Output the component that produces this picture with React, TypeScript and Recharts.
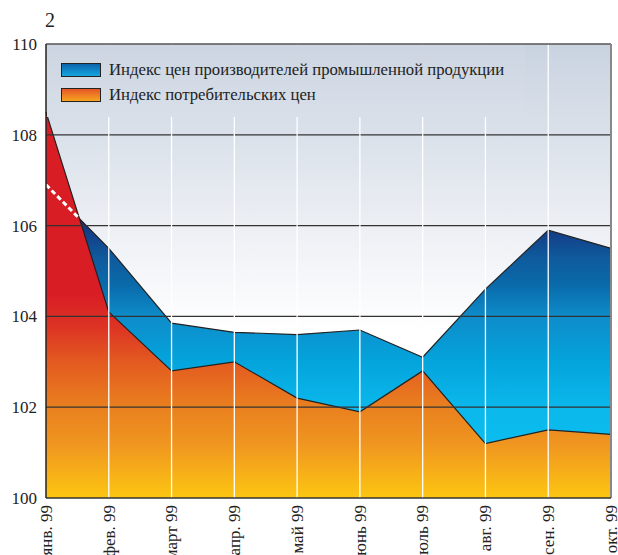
import {
  ComposedChart,
  Area,
  Line,
  XAxis,
  YAxis,
  CartesianGrid,
  ReferenceLine,
} from "recharts";

// Месяцы 1999 г.
const months = [
  "янв. 99",
  "фев. 99",
  "март 99",
  "апр. 99",
  "май 99",
  "июнь 99",
  "июль 99",
  "авг. 99",
  "сен. 99",
  "окт. 99",
];

// Индекс цен производителей промышленной продукции
const producer = [106.9, 105.5, 103.85, 103.65, 103.6, 103.7, 103.1, 104.6, 105.9, 105.5];
// Индекс потребительских цен
const consumer = [108.5, 104.1, 102.8, 103.0, 102.2, 101.9, 102.8, 101.2, 101.5, 101.4];

const yTicks = [100, 102, 104, 106, 108, 110];
const gridValues = [102, 104, 106, 108];

const SERIF = '"Liberation Serif", "DejaVu Serif", serif';

const data = months.map((label, i) => ({
  i,
  label,
  producer: producer[i],
  consumer: consumer[i],
}));

// producer line is hidden under the consumer area until the two cross;
// that stretch is shown as a white dashed line
function hiddenProducerSegment() {
  const d0 = consumer[0] - producer[0];
  const d1 = consumer[1] - producer[1];
  const t = d0 / (d0 - d1);
  return [
    { i: 0, v: producer[0] },
    { i: t, v: producer[0] + t * (producer[1] - producer[0]) },
  ];
}

function MonthTick(props: any) {
  const { x, y, payload } = props;
  return (
    <g transform={`translate(${x},${y + 5}) rotate(-90)`}>
      <text
        x={0}
        y={0}
        dy="0.34em"
        textAnchor="end"
        fill="#222"
        fontSize={17}
        fontFamily={SERIF}
      >
        {months[payload.value]}
      </text>
    </g>
  );
}

function Swatch({ kind }: { kind: "blue" | "orange" }) {
  const bg =
    kind === "blue"
      ? "linear-gradient(#0b63aa, #15a6e2)"
      : "linear-gradient(#e65528, #f6a51e)";
  return (
    <div
      style={{
        width: 38,
        height: 12,
        border: "1px solid #222",
        background: bg,
        marginRight: 8,
      }}
    />
  );
}

export default function App() {
  return (
    <div
      style={{
        position: "absolute",
        left: 0,
        top: 0,
        width: 618,
        height: 555,
        overflow: "hidden",
        fontFamily: SERIF,
      }}
    >
      <ComposedChart
        width={618}
        height={555}
        data={data}
        margin={{ top: 44, right: 7, bottom: 0, left: 0 }}
        style={{ fontFamily: SERIF }}
      >
        <defs>
          <linearGradient id="bgFill" x1="0" y1="0" x2="0" y2="1">
            <stop offset="0%" stopColor="#c9d3e0" />
            <stop offset="40%" stopColor="#eceff4" />
            <stop offset="63%" stopColor="#ffffff" />
            <stop offset="100%" stopColor="#ffffff" />
          </linearGradient>
          <linearGradient id="blueFill" gradientUnits="userSpaceOnUse" x1="0" y1="44" x2="0" y2="498">
            <stop offset="0.38" stopColor="#172c7a" />
            <stop offset="0.47" stopColor="#0f5a9c" />
            <stop offset="0.53" stopColor="#0a6aaa" />
            <stop offset="0.6" stopColor="#0e8cca" />
            <stop offset="0.7" stopColor="#04a4dc" />
            <stop offset="0.8" stopColor="#0ab8ec" />
            <stop offset="1" stopColor="#12c4f4" />
          </linearGradient>
          <linearGradient id="orangeFill" gradientUnits="userSpaceOnUse" x1="0" y1="44" x2="0" y2="498">
            <stop offset="0.55" stopColor="#d91d25" />
            <stop offset="0.62" stopColor="#dc3224" />
            <stop offset="0.7" stopColor="#e35a20" />
            <stop offset="0.8" stopColor="#e9801f" />
            <stop offset="0.88" stopColor="#ef9520" />
            <stop offset="1" stopColor="#fdc612" />
          </linearGradient>
        </defs>
        <CartesianGrid fill="url(#bgFill)" horizontal={false} vertical={false} />
        <XAxis
          type="number"
          dataKey="i"
          domain={[0, 9]}
          ticks={months.map((_, i) => i)}
          height={57}
          tickLine={false}
          tickSize={0}
          axisLine={{ stroke: "#333", strokeWidth: 1.5 }}
          tick={<MonthTick />}
          interval={0}
        />
        <YAxis
          type="number"
          domain={[100, 110]}
          ticks={yTicks}
          width={46}
          tickLine={false}
          tickSize={0}
          tickMargin={9}
          axisLine={{ stroke: "#222", strokeWidth: 1.5 }}
          tick={{ fill: "#222", fontSize: 17, fontFamily: SERIF }}
          interval={0}
        />
        <Area
          type="linear"
          dataKey="producer"
          stroke="#222"
          strokeWidth={1.2}
          fill="url(#blueFill)"
          fillOpacity={1}
          isAnimationActive={false}
          dot={false}
          activeDot={false}
        />
        <Area
          type="linear"
          dataKey="consumer"
          stroke="#222"
          strokeWidth={1.2}
          fill="url(#orangeFill)"
          fillOpacity={1}
          isAnimationActive={false}
          dot={false}
          activeDot={false}
        />
        {gridValues.map((v) => (
          <ReferenceLine key={`h${v}`} y={v} stroke="#333" strokeWidth={1.3} zIndex={450} />
        ))}
        {months.slice(1, -1).map((_, k) => (
          <ReferenceLine key={`v${k}`} x={k + 1} stroke="#ffffff" strokeWidth={1.3} zIndex={450} />
        ))}
        <ReferenceLine y={110} stroke="#555" strokeWidth={1.5} zIndex={450} />
        <ReferenceLine x={9} stroke="#888" strokeWidth={2} zIndex={450} />
        <Line
          data={hiddenProducerSegment()}
          dataKey="v"
          type="linear"
          stroke="#ffffff"
          strokeWidth={3}
          strokeDasharray="5 3"
          dot={false}
          activeDot={false}
          isAnimationActive={false}
          zIndex={460}
        />
      </ComposedChart>

      <div
        style={{
          position: "absolute",
          left: 45,
          top: 9,
          fontSize: 20,
          color: "#222",
        }}
      >
        2
      </div>

      <div
        style={{
          position: "absolute",
          left: 47,
          top: 45,
          width: 478,
          height: 72,
          background: "linear-gradient(#ccd5e1, #d8dfe9)",
          boxSizing: "border-box",
          paddingLeft: 14,
          paddingTop: 14,
          fontSize: 16.7,
          color: "#222",
        }}
      >
        <div style={{ display: "flex", alignItems: "center", height: 22 }}>
          <Swatch kind="blue" />
          <span>Индекс цен производителей промышленной продукции</span>
        </div>
        <div style={{ display: "flex", alignItems: "center", height: 22, marginTop: 3 }}>
          <Swatch kind="orange" />
          <span>Индекс потребительских цен</span>
        </div>
      </div>
    </div>
  );
}
